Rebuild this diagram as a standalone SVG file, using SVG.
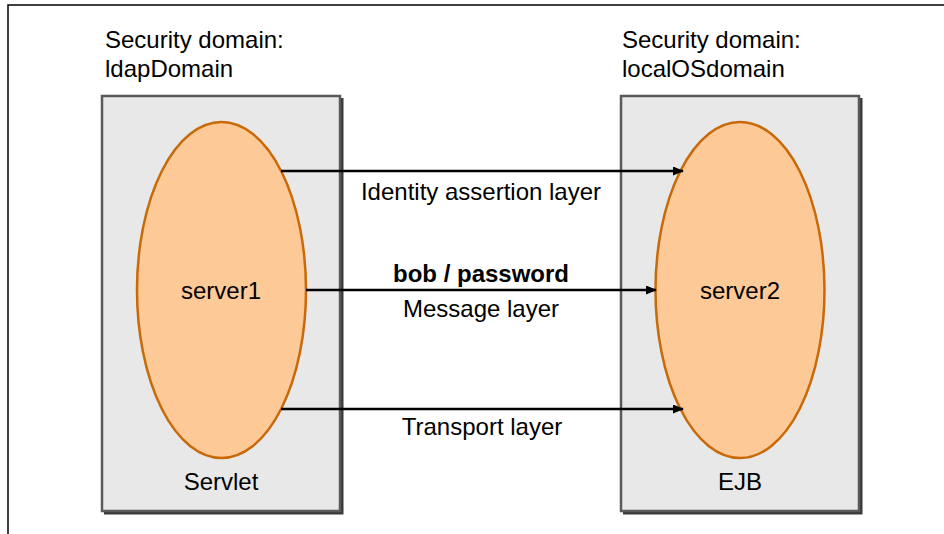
<svg xmlns="http://www.w3.org/2000/svg" width="944" height="534" viewBox="0 0 944 534">
<style>
text{font-family:"Liberation Sans",Arial,sans-serif;font-size:24px;fill:#000}
.c{text-anchor:middle}
.b{font-weight:bold}
.box{fill:#e8e8e8;stroke:#5a5a5a;stroke-width:2.5}
.shadow{fill:none;stroke:#3a3a3a;stroke-width:3}
.ell{fill:#fdc997;stroke:#c8690a;stroke-width:2.5}
.conn{stroke:#000;stroke-width:2.5;fill:none}
</style>
<defs>
<marker id="ah" markerWidth="11" markerHeight="9" refX="10" refY="4.5" orient="auto" markerUnits="userSpaceOnUse">
<path d="M0,0 L11,4.5 L0,9 z" fill="#000"/>
</marker>
</defs>
<rect width="944" height="534" fill="#fff"/>
<path d="M8,534 V5 H944" fill="none" stroke="#000" stroke-width="1.5"/>
<g id="ldapDomain">
<text x="105" y="48">Security domain:</text>
<text x="105" y="77">ldapDomain</text>
<path class="shadow" d="M342,98 V513 H104"/>
<rect class="box" x="102" y="96" width="238" height="415"/>
<text class="c" x="221" y="490">Servlet</text>
</g>
<g id="server1">
<ellipse class="ell" cx="221.5" cy="290" rx="84.5" ry="168"/>
<text class="c" x="221" y="299">server1</text>
</g>
<g id="localOSdomain">
<text x="622" y="48">Security domain:</text>
<text x="622" y="77">localOSdomain</text>
<path class="shadow" d="M861,98 V513 H623"/>
<rect class="box" x="621" y="96" width="238" height="415"/>
<text class="c" x="740" y="490">EJB</text>
</g>
<g id="server2">
<ellipse class="ell" cx="740" cy="290" rx="84.5" ry="168"/>
<text class="c" x="740" y="299">server2</text>
</g>
<g id="connectors">
<line class="conn" x1="281" y1="171" x2="683" y2="171" marker-end="url(#ah)"/>
<line class="conn" x1="306" y1="290" x2="656" y2="290" marker-end="url(#ah)"/>
<line class="conn" x1="281" y1="409" x2="683" y2="409" marker-end="url(#ah)"/>
<text class="c" x="481" y="200">Identity assertion layer</text>
<text class="c b" x="481" y="282">bob / password</text>
<text class="c" x="481" y="317">Message layer</text>
<text class="c" x="482" y="435">Transport layer</text>
</g>
</svg>
